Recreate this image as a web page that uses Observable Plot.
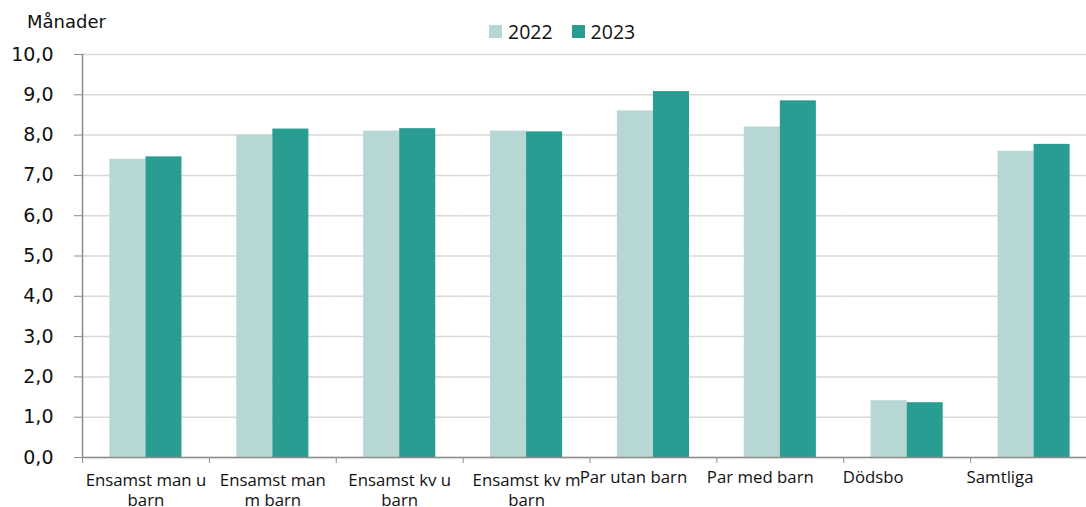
<!DOCTYPE html>
<html><head><meta charset="utf-8">
<script src="https://cdn.jsdelivr.net/npm/d3@7"></script>
<script src="https://cdn.jsdelivr.net/npm/@observablehq/plot@0.6"></script>
<style>
html,body{margin:0;padding:0;background:#fff;overflow:hidden;width:1086px;height:507px;}
#wrap{position:relative;width:1086px;height:507px;overflow:hidden;}
#unit{position:absolute;left:27px;top:13px;font-family:"DejaVu Sans";font-size:18px;line-height:18px;color:#111;}
#legend{position:absolute;left:489px;top:21px;display:flex;align-items:center;height:20px;font-family:"Open Sans";font-size:19.5px;color:#111;}
.item{display:flex;align-items:center;margin-right:19px;}
.sw{width:13px;height:13px;display:inline-block;margin-right:6px;}
#chart{position:absolute;left:0;top:40px;width:1100px;}
#chart svg{max-width:none !important;}
</style></head><body>
<div id="wrap"><div id="unit">Månader</div><div id="legend"></div><div id="chart"></div></div>
<script>
const categories = ["Ensamst man u barn","Ensamst man m barn","Ensamst kv u barn","Ensamst kv m barn","Par utan barn","Par med barn","Dödsbo","Samtliga"];
const labels = ["Ensamst man u\nbarn","Ensamst man\nm barn","Ensamst kv u\nbarn","Ensamst kv m\nbarn","Par utan barn","Par med barn","Dödsbo","Samtliga"];
const years = ["2022","2023"];
const values2022 = [7.40, 8.00, 8.10, 8.10, 8.60, 8.20, 1.41, 7.60];
const values2023 = [7.46, 8.15, 8.16, 8.08, 9.08, 8.85, 1.36, 7.77];
const yTicks = [0,1,2,3,4,5,6,7,8,9,10];
const colors = ["#b7d7d5","#2a9d93"];

const leg = document.getElementById("legend");
years.forEach((y,i)=>{
  const it = document.createElement("span"); it.className="item";
  const sw = document.createElement("span"); sw.className="sw"; sw.style.background=colors[i];
  it.appendChild(sw); it.appendChild(document.createTextNode(y)); leg.appendChild(it);
});

const W = 1097, ML = 82, MR = 0;
const facetW = (W-ML-MR)/categories.length;
const rows = categories.flatMap((c,i)=>[{cat:c, year:years[0], value:values2022[i]},{cat:c, year:years[1], value:values2023[i]}]);
const fmt = d => d.toFixed(1).replace(".", ",");
const lab = new Map(categories.map((c,i)=>[c, labels[i]]));
const axisStroke = "#8c8c8c";

const chart = Plot.plot({
  width: W, height: 467, marginLeft: ML, marginRight: MR, marginTop: 14, marginBottom: 50,
  style: {fontFamily: "Open Sans", fontSize: "16.8px", color: "#111", background: "#fff", overflow: "visible", maxWidth: "none"},
  fx: {domain: categories, padding: 0, round: false, axis: null},
  x: {domain: years, paddingInner: 0, paddingOuter: 0.76, round: false, axis: null},
  y: {domain: [0,10], axis: null},
  color: {domain: years, range: colors},
  marks: [
    Plot.gridY(yTicks, {stroke:"#d9d9d9", strokeOpacity:1, strokeWidth:1.5}),
    Plot.barY(rows, {fx:"cat", x:"year", y:"value", fill:"year"}),
    Plot.ruleY([0], {stroke:axisStroke, strokeWidth:1.5}),
    Plot.frame({anchor:"left", facetAnchor:"left", stroke:axisStroke, strokeWidth:1.5}),
    Plot.axisY(yTicks, {tickSize:8, tickPadding:21, tickFormat:fmt, label:null, stroke:axisStroke, fontFamily:"DejaVu Sans", fontSize:19}),
    Plot.axisFx({anchor:"bottom", tickSize:6, tickFormat:()=>"", dx:-facetW/2, label:null, stroke:axisStroke}),
    Plot.axisFx({anchor:"bottom", ticks:categories.slice(0,4), tickSize:0, tickPadding:14, tickFormat:c=>lab.get(c), lineHeight:1.2, label:null}),
    Plot.axisFx({anchor:"bottom", ticks:categories.slice(4,6), tickSize:0, tickPadding:14, tickFormat:c=>lab.get(c), dx:-20, label:null}),
    Plot.axisFx({anchor:"bottom", ticks:categories.slice(6), tickSize:0, tickPadding:14, tickFormat:c=>lab.get(c), dx:-34, label:null})
  ]
});
document.getElementById("chart").appendChild(chart);
</script>
</body></html>
